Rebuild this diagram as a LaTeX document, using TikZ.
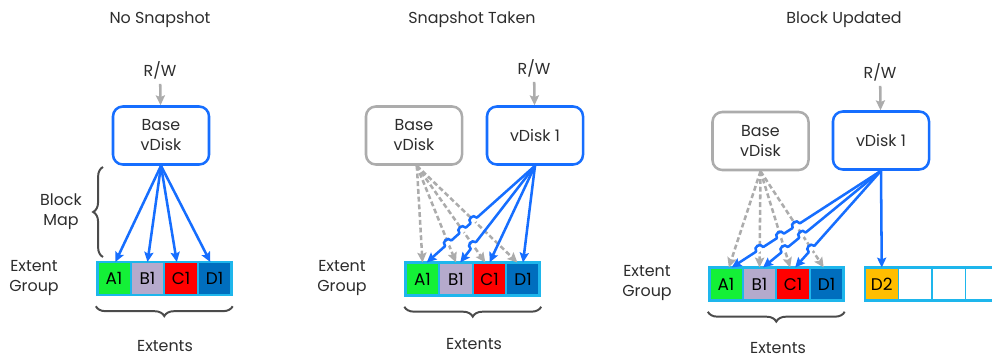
\documentclass[tikz,border=0pt]{standalone}
\usepackage{fontspec}
\setmainfont{Poppins}
\usetikzlibrary{
  arrows.meta,
  calc,
  positioning,
  fit,
  intersections,
  decorations.pathreplacing
}
\definecolor{vblue}{RGB}{22,110,255}
\definecolor{vgray}{RGB}{172,172,172}
\definecolor{egcyan}{RGB}{30,182,236}
\definecolor{txtclr}{RGB}{45,45,45}
\definecolor{braceclr}{RGB}{75,75,75}
\definecolor{fillA}{RGB}{20,240,55}
\definecolor{fillB}{RGB}{181,170,204}
\definecolor{fillC}{RGB}{255,0,0}
\definecolor{fillD}{RGB}{0,110,190}
\definecolor{fillE}{RGB}{255,190,0}
\tikzset{
  % Texts
  lab/.style       = {font=\fontsize{11.3}{14.2}\selectfont, text=txtclr, align=center},
  % vDisk boxes
  diskbox/.style   = {lab, rounded corners=7pt, line width=1.8pt, fill=white,
                      minimum width=2.4cm, minimum height=1.45cm},
  livedisk/.style  = {diskbox, draw=vblue},
  olddisk/.style   = {diskbox, draw=vgray},
  % Extent cells
  cell/.style      = {font=\fontsize{12}{14}\selectfont, text=black, draw=egcyan,
                      line width=1.2pt, minimum width=0.8375cm, minimum height=0.825cm,
                      inner sep=0pt, outer sep=0pt},
  groupframe/.style= {draw=egcyan, line width=2pt, inner sep=0pt},
  % Connectors
  tip/.style       = {-{Stealth[length=7pt,width=6.5pt,inset=1.2pt]}},
  blueline/.style  = {vblue, line width=1.8pt},
  bluearrow/.style = {blueline, tip},
  grayarrow/.style = {vgray, line width=1.8pt, dash pattern=on 3.5pt off 2pt, tip},
  rwarrow/.style   = {vgray, line width=1.8pt, tip},
  hoperase/.style  = {white, line width=3pt},
  % Braces
  bracemark/.style = {braceclr, line width=1.4pt, decorate,
                      decoration={brace, amplitude=7pt}},
}

\begin{document}
\begin{tikzpicture}[x=0.025cm, y=-0.025cm]
  \clip (0,0) rectangle (992,358);

  % No Snapshot
  \node[lab] (t1) at (160,20) {No Snapshot};
  \node[lab] (rw1) at (160,70) {R/W};
  \node[livedisk] (base1) at (161,135.5) {Base\\vDisk};
  \node[cell, fill=fillA] (a1) at (114,278.5) {A1};
  \node[cell, fill=fillB, right=0pt of a1] (b1) {B1};
  \node[cell, fill=fillC, right=0pt of b1] (c1) {C1};
  \node[cell, fill=fillD, right=0pt of c1] (d1) {D1};
  \node[groupframe, fit=(a1)(d1)] (eg1) {};
  \node[lab] (eglab1) at (34,278) {Extent\\Group};
  \node[lab] (bm1) at (61,212) {Block\\Map};
  \node[lab] (ext1) at (165,346) {Extents};
  \draw[rwarrow] (rw1) -- (base1);
  \draw[bluearrow] (base1.south) -- ([xshift=1pt]a1.north);
  \draw[bluearrow] (base1.south) -- (b1.north);
  \draw[bluearrow] (base1.south) -- ([xshift=-3pt]c1.north);
  \draw[bluearrow] (base1.south) -- ([xshift=-3pt]d1.north);
  \draw[bracemark] (103,257) -- (103,167);
  \draw[bracemark] ([yshift=-7pt]eg1.south east) -- ([yshift=-7pt]eg1.south west);

  % Snapshot Taken
  \node[lab] (t2) at (472,20) {Snapshot Taken};
  \node[lab] (rw2) at (534,68) {R/W};
  \node[olddisk] (base2) at (414,135.5) {Base\\vDisk};
  \node[livedisk] (vd2) at (535,135.5) {vDisk 1};
  \node[cell, fill=fillA] (a2) at (422.5,279) {A1};
  \node[cell, fill=fillB, right=0pt of a2] (b2) {B1};
  \node[cell, fill=fillC, right=0pt of b2] (c2) {C1};
  \node[cell, fill=fillD, right=0pt of c2] (d2) {D1};
  \node[groupframe, fit=(a2)(d2)] (eg2) {};
  \node[lab] (eglab2) at (342,278) {Extent\\Group};
  \node[lab] (ext2) at (474,344) {Extents};
  \draw[rwarrow] (rw2) -- (vd2);
  \draw[grayarrow, name path=g2a] ([xshift=2pt]base2.south) -- (a2.north);
  \draw[grayarrow, name path=g2b] ([xshift=2pt]base2.south) -- (b2.north);
  \draw[grayarrow, name path=g2c] ([xshift=2pt]base2.south) -- ([xshift=-3pt]c2.north);
  \draw[grayarrow, name path=g2d] ([xshift=2pt]base2.south) -- ([xshift=-4pt]d2.north);
  \draw[bluearrow, name path=b2a] (vd2.south) -- ([xshift=3pt]a2.north);
  \draw[bluearrow, name path=b2b] (vd2.south) -- ([xshift=3pt]b2.north);
  \draw[bluearrow, name path=b2c] (vd2.south) -- (c2.north);
  \draw[bluearrow, name path=b2d] (vd2.south) -- (d2.north);
  \draw[bracemark] ([yshift=-7pt]eg2.south east) -- ([yshift=-7pt]eg2.south west);

  % Block Updated
  \node[lab] (t3) at (844,20) {Block Updated};
  \node[lab] (rw3) at (880,72) {R/W};
  \node[olddisk] (base3) at (760.5,141) {Base\\vDisk};
  \node[livedisk] (vd3) at (881,140.5) {vDisk 1};
  \node[cell, fill=fillA] (a3) at (726,284) {A1};
  \node[cell, fill=fillB, right=0pt of a3] (b3) {B1};
  \node[cell, fill=fillC, right=0pt of b3] (c3) {C1};
  \node[cell, fill=fillD, right=0pt of c3] (d3) {D1};
  \node[groupframe, fit=(a3)(d3)] (eg3) {};
  \node[cell, fill=fillE] (dnew) at (881.75,284) {D2};
  \node[cell, right=0pt of dnew] (free1) {};
  \node[cell, right=0pt of free1] (free2) {};
  \node[cell, right=0pt of free2] (free3) {};
  \node[groupframe, fit=(dnew)(free3)] (eg4) {};
  \node[lab] (eglab3) at (647,283) {Extent\\Group};
  \node[lab] (ext3) at (778,348.5) {Extents};
  \draw[rwarrow] (rw3) -- (vd3);
  \draw[grayarrow, name path=g3a] (base3.south) -- ([xshift=2pt]a3.north);
  \draw[grayarrow, name path=g3b] (base3.south) -- (b3.north);
  \draw[grayarrow, name path=g3c] (base3.south) -- ([xshift=-2pt]c3.north);
  \draw[grayarrow, name path=g3d] (base3.south) -- ([xshift=-2pt]d3.north);
  \draw[bluearrow, name path=b3a] (vd3.south) -- ([xshift=4pt]a3.north);
  \draw[bluearrow, name path=b3b] (vd3.south) -- ([xshift=2.5pt]b3.north);
  \draw[bluearrow, name path=b3c] (vd3.south) -- ([xshift=1.5pt]c3.north);
  \draw[bluearrow] (vd3.south) -- (dnew.north);
  \draw[bracemark] ([yshift=-7pt]eg3.south east) -- ([yshift=-7pt]eg3.south west);

  % Line hops
  \foreach \p/\i/\j in {2/a/b,2/a/c,2/a/d,2/b/c,
                        3/a/b,3/a/c,3/a/d,3/b/c,3/b/d,3/c/d}{
    \edef\hopcut{\noexpand\path[name intersections={of=b\p\i\space and g\p\j, by=hop}];}
    \hopcut
    \coordinate (hA) at ($(hop)!3pt!(vd\p.south)$);
    \coordinate (hB) at ($(hop)!-3pt!(vd\p.south)$);
    \draw[hoperase] (hA) -- (hB);
    \draw[blueline, line cap=round] (hA)
      .. controls ($(hA)!4pt!90:(vd\p.south)$) and ($(hB)!4pt!90:(vd\p.south)$) .. (hB);
  }
\end{tikzpicture}
\end{document}
